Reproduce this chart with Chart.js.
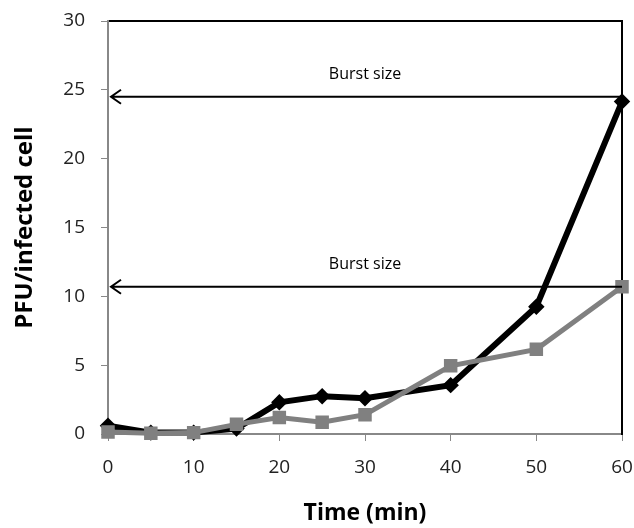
<!DOCTYPE html>
<html>
<head>
<meta charset="utf-8">
<script src="https://cdn.jsdelivr.net/npm/chart.js@4.4.0/dist/chart.umd.min.js"></script>
<style>
  body { margin: 0; background: #fff; }
  #wrap { width: 634px; height: 528px; }
</style>
</head>
<body>
<div id="wrap"><canvas id="c" width="634" height="528"></canvas></div>
<script>
const times = [0, 5, 10, 15, 20, 25, 30, 40, 50, 60];
const blackSeries = [0.6, 0.1, 0.1, 0.4, 2.3, 2.75, 2.6, 3.55, 9.25, 24.15];
const graySeries = [0.15, 0.05, 0.1, 0.7, 1.2, 0.85, 1.4, 4.95, 6.15, 10.7];
const burstLevels = [24.5, 10.7];
const burstLabel = "Burst size";

const font = "'Open Sans', 'Liberation Sans', sans-serif";

const arrows = {
  id: "arrows",
  afterDatasetsDraw(chart) {
    const { ctx, scales: { x, y } } = chart;
    ctx.save();
    ctx.strokeStyle = "#000";
    ctx.fillStyle = "#000";
    ctx.lineWidth = 2;
    burstLevels.forEach(v => {
      const py = y.getPixelForValue(v);
      const x0 = x.getPixelForValue(0) + 3;
      const x1 = x.getPixelForValue(60);
      ctx.beginPath();
      ctx.moveTo(x0, py);
      ctx.lineTo(x1, py);
      ctx.moveTo(x0 + 10, py - 7);
      ctx.lineTo(x0, py);
      ctx.lineTo(x0 + 10, py + 7);
      ctx.stroke();
      ctx.font = "16px " + font;
      ctx.textAlign = "center";
      ctx.textBaseline = "middle";
      ctx.fillText(burstLabel, x.getPixelForValue(30), py - 22);
    });
    ctx.restore();
  }
};

new Chart(document.getElementById("c"), {
  type: "line",
  data: {
    datasets: [
      {
        data: times.map((t, i) => ({ x: t, y: graySeries[i] })),
        borderColor: "#808080",
        backgroundColor: "#808080",
        borderWidth: 5,
        pointStyle: "rect",
        pointRadius: 6,
        tension: 0,
        clip: false
      },
      {
        data: times.map((t, i) => ({ x: t, y: blackSeries[i] })),
        borderColor: "#000",
        backgroundColor: "#000",
        borderWidth: 6,
        pointStyle: "rectRot",
        pointRadius: 4,
        tension: 0,
        clip: false
      }
    ]
  },
  options: {
    responsive: false,
    animation: false,
    layout: { padding: 0 },
    plugins: { legend: { display: false }, tooltip: { enabled: false } },
    scales: {
      x: {
        type: "linear",
        min: 0, max: 60,
        afterFit: s => { s.height = 94; s.paddingLeft = 0; s.paddingRight = 0; },
        ticks: { stepSize: 10, color: "#222", font: { size: 19, family: font }, padding: 15 },
        grid: { drawOnChartArea: false, drawTicks: true, tickLength: 7, tickColor: "#888", color: "#888" },
        border: { color: "#888", width: 2 },
        title: { display: true, text: "Time (min)", color: "#000", font: { size: 23, weight: "bold", family: font }, padding: { top: 0, bottom: 1 } }
      },
      x2: {
        type: "linear", position: "top", min: 0, max: 60,
        afterFit: s => { s.height = 21; s.paddingLeft = 0; s.paddingRight = 0; },
        ticks: { display: false },
        grid: { display: false, drawTicks: false },
        border: { color: "#000", width: 2 }
      },
      y: {
        min: 0, max: 30,
        afterFit: s => { s.width = 108; s.paddingTop = 0; s.paddingBottom = 0; },
        ticks: { stepSize: 5, color: "#222", font: { size: 19, family: font }, padding: 16 },
        grid: { drawOnChartArea: false, drawTicks: true, tickLength: 7, tickColor: "#888", color: "#888" },
        border: { color: "#888", width: 2 },
        title: { display: true, text: "PFU/infected cell", color: "#000", font: { size: 24, weight: "bold", family: font }, padding: { top: 11, bottom: 0 } }
      },
      y2: {
        position: "right", min: 0, max: 30,
        afterFit: s => { s.width = 12; s.paddingTop = 0; s.paddingBottom = 0; },
        ticks: { display: false },
        grid: { display: false, drawTicks: false },
        border: { color: "#000", width: 2 }
      }
    }
  },
  plugins: [arrows]
});
</script>
</body>
</html>
